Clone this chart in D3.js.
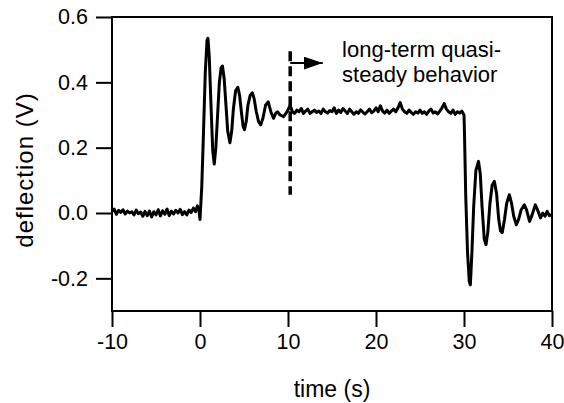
<!DOCTYPE html>
<html>
<head>
<meta charset="utf-8">
<script src="https://cdn.jsdelivr.net/npm/d3@7"></script>
<style>
  body { margin: 0; background: #fff; }
  text { font-family: "Liberation Sans", Arial, sans-serif; fill: #000; }
</style>
</head>
<body>
<script>
// signal, [time (s), deflection (V)]
var preStep = [
  [-10, 0.005], [-9.75, 0.012], [-9.5, -0.004], [-9.25, 0.008], [-9, 0.002],
  [-8.75, 0.010], [-8.5, -0.003], [-8.25, 0.006], [-8, 0.000], [-7.75, 0.004],
  [-7.5, -0.006], [-7.25, 0.009], [-7, -0.002], [-6.75, 0.003], [-6.5, -0.010],
  [-6.25, 0.005], [-6, -0.008], [-5.75, 0.006], [-5.5, -0.012], [-5.25, 0.004],
  [-5, -0.006], [-4.75, 0.010], [-4.5, -0.009], [-4.25, 0.007], [-4, -0.004],
  [-3.75, 0.012], [-3.5, -0.008], [-3.25, 0.006], [-3, -0.003], [-2.75, 0.008],
  [-2.5, 0.000], [-2.25, 0.011], [-2, -0.005], [-1.75, 0.004], [-1.5, -0.006],
  [-1.25, 0.009], [-1, 0.002], [-0.75, 0.015], [-0.5, 0.004], [-0.3, 0.022],
  [-0.1, 0.005]
];
var ringUp = [
  [0.0, -0.02], [0.2, 0.08], [0.4, 0.25], [0.6, 0.43], [0.8, 0.53], [0.9, 0.535],
  [1.05, 0.48], [1.25, 0.33], [1.45, 0.19], [1.62, 0.15], [1.8, 0.2], [2.0, 0.3],
  [2.2, 0.40], [2.4, 0.445], [2.55, 0.45], [2.75, 0.41], [2.95, 0.33], [3.15, 0.25],
  [3.4, 0.215], [3.6, 0.25], [3.8, 0.32], [4.05, 0.375], [4.3, 0.385], [4.5, 0.36],
  [4.7, 0.31], [4.9, 0.265], [5.05, 0.255], [5.25, 0.28], [5.45, 0.33], [5.7, 0.36],
  [5.95, 0.368], [6.15, 0.35], [6.4, 0.31], [6.65, 0.28], [6.9, 0.27], [7.15, 0.29],
  [7.45, 0.33], [7.75, 0.34], [8.05, 0.31], [8.35, 0.29], [8.6, 0.305], [8.8, 0.31],
  [9.1, 0.30], [9.5, 0.295], [9.9, 0.31], [10.25, 0.33]
];
var plateau = [
  [10.5, 0.31], [10.75, 0.305], [11, 0.315], [11.25, 0.31], [11.5, 0.32], [11.75, 0.305],
  [12, 0.312], [12.25, 0.318], [12.5, 0.305], [12.75, 0.31], [13, 0.315], [13.25, 0.308],
  [13.5, 0.312], [13.75, 0.305], [14, 0.318], [14.25, 0.31], [14.5, 0.306], [14.75, 0.314],
  [15, 0.31], [15.25, 0.322], [15.5, 0.305], [15.75, 0.315], [16, 0.308], [16.25, 0.32],
  [16.5, 0.312], [16.75, 0.305], [17, 0.318], [17.25, 0.31], [17.5, 0.302], [17.75, 0.31],
  [18, 0.305], [18.25, 0.316], [18.5, 0.309], [18.75, 0.303], [19, 0.31], [19.25, 0.318],
  [19.5, 0.307], [19.75, 0.312], [20, 0.322], [20.25, 0.31], [20.5, 0.328], [20.75, 0.312],
  [21, 0.306], [21.25, 0.315], [21.5, 0.305], [21.75, 0.312], [22, 0.318], [22.25, 0.31],
  [22.5, 0.322], [22.75, 0.338], [23, 0.318], [23.25, 0.31], [23.5, 0.305], [23.75, 0.315],
  [24, 0.308], [24.25, 0.302], [24.5, 0.31], [24.75, 0.306], [25, 0.315], [25.25, 0.305],
  [25.5, 0.31], [25.75, 0.302], [26, 0.312], [26.25, 0.318], [26.5, 0.306], [26.75, 0.31],
  [27, 0.303], [27.25, 0.312], [27.5, 0.322], [27.75, 0.335], [28, 0.318], [28.25, 0.31],
  [28.5, 0.305], [28.75, 0.315], [29, 0.302], [29.25, 0.31], [29.5, 0.306], [29.75, 0.312],
  [30, 0.30]
];
var ringDown = [
  [30.05, 0.25], [30.2, 0.05], [30.4, -0.12], [30.6, -0.21], [30.72, -0.22], [30.9, -0.12],
  [31.1, 0.02], [31.35, 0.13], [31.65, 0.158], [31.85, 0.12], [32.05, 0.02], [32.3, -0.08],
  [32.5, -0.097], [32.7, -0.06], [32.95, 0.03], [33.2, 0.085], [33.45, 0.097], [33.7, 0.06],
  [33.95, -0.02], [34.15, -0.055], [34.35, -0.06], [34.6, -0.02], [34.85, 0.03], [35.15, 0.056],
  [35.4, 0.03], [35.65, -0.01], [35.95, -0.036], [36.2, -0.02], [36.5, 0.01], [36.85, 0.025],
  [37.1, 0.01], [37.45, -0.026], [37.75, -0.005], [38.1, 0.025], [38.35, 0.01], [38.7, -0.015],
  [38.95, 0.0], [39.2, -0.01], [39.45, 0.005], [39.7, -0.008], [40, -0.005]
];

var xTicks = [-10, 0, 10, 20, 30, 40];
var yTicks = [-0.2, 0.0, 0.2, 0.4, 0.6];

// annotation: dashed marker and arrow
var markerTime = 10.25;
var markerSpan = [0.056, 0.495];
var arrowSpan = [10.25, 14.4];
var arrowLevel = 0.459;
var noteLines = ['long-term quasi-', 'steady behavior'];

var width = 564;
var height = 403;
var margin = {top: 17, right: 12, bottom: 92, left: 112};

var svg = d3.select('body').append('svg')
  .attr('width', width)
  .attr('height', height);

var x = d3.scaleLinear().domain([-10, 40]).range([margin.left, width - margin.right]);
var y = d3.scaleLinear().domain([-0.3, 0.6]).range([height - margin.bottom, margin.top]);

function fmt(d) { return d3.format('.1f')(d).replace('\u2212', '-'); }

var xAxis = svg.append('g')
  .attr('transform', 'translate(0,' + (height - margin.bottom) + ')')
  .call(d3.axisBottom(x).tickValues(xTicks).tickSize(16).tickPadding(7)
    .tickFormat(function(d) { return String(d); }));
var yAxis = svg.append('g')
  .attr('transform', 'translate(' + margin.left + ',0)')
  .call(d3.axisLeft(y).tickValues(yTicks).tickSize(16).tickPadding(8).tickFormat(fmt));

[xAxis, yAxis].forEach(function(g) {
  g.select('.domain').remove();
  g.selectAll('line').attr('stroke', '#000').attr('stroke-width', 2);
  g.selectAll('text').style('font-size', '21.5px')
    .style('font-family', '"Liberation Sans", Arial, sans-serif');
});

// frame
svg.append('rect')
  .attr('x', x(-10)).attr('y', y(0.6))
  .attr('width', x(40) - x(-10)).attr('height', y(-0.3) - y(0.6))
  .attr('fill', 'none').attr('stroke', '#000').attr('stroke-width', 2);

var line = d3.line()
  .x(function(d) { return x(d[0]); })
  .y(function(d) { return y(d[1]); });

var signal = preStep.concat(ringUp, plateau, ringDown);
svg.append('path')
  .datum(signal)
  .attr('d', line)
  .attr('fill', 'none')
  .attr('stroke', '#000')
  .attr('stroke-width', 3)
  .attr('stroke-linejoin', 'round');

svg.append('line')
  .attr('x1', x(markerTime)).attr('x2', x(markerTime))
  .attr('y1', y(markerSpan[1])).attr('y2', y(markerSpan[0]))
  .attr('stroke', '#000').attr('stroke-width', 3.5)
  .attr('stroke-dasharray', '10,5');

svg.append('defs').append('marker')
  .attr('id', 'head')
  .attr('viewBox', '0 0 10 10')
  .attr('refX', 10).attr('refY', 5)
  .attr('markerWidth', 19).attr('markerHeight', 13)
  .attr('markerUnits', 'userSpaceOnUse')
  .attr('orient', 'auto')
  .attr('preserveAspectRatio', 'none')
  .append('path').attr('d', 'M0,0L10,5L0,10Z').attr('fill', '#000');

svg.append('line')
  .attr('x1', x(arrowSpan[0])).attr('x2', x(arrowSpan[1]) - 4)
  .attr('y1', y(arrowLevel)).attr('y2', y(arrowLevel))
  .attr('stroke', '#000').attr('stroke-width', 2)
  .attr('marker-end', 'url(#head)');

svg.selectAll('.note')
  .data(noteLines)
  .enter().append('text')
  .attr('class', 'note')
  .attr('x', x(16.15))
  .attr('y', function(d, i) { return y(0.478) + i * 25; })
  .style('font-size', '22px')
  .text(function(d) { return d; });

svg.append('text')
  .attr('x', (x(-10) + x(40)) / 2)
  .attr('y', 397)
  .attr('text-anchor', 'middle')
  .style('font-size', '23px')
  .text('time (s)');

svg.append('text')
  .attr('transform', 'translate(33,' + 170 + ') rotate(-90)')
  .attr('text-anchor', 'middle')
  .style('font-size', '24px')
  .style('letter-spacing', '1px')
  .text('deflection (V)');
</script>
</body>
</html>
